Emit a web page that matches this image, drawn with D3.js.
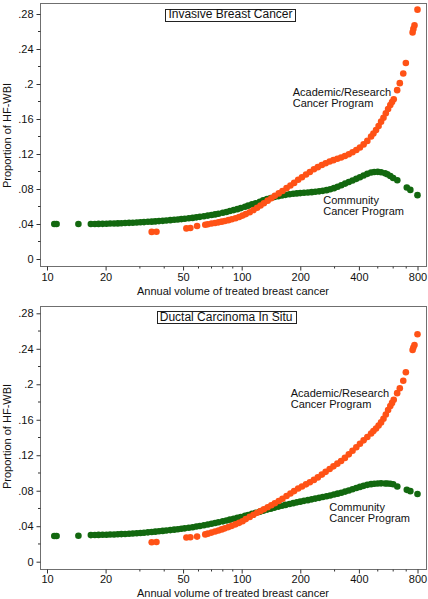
<!DOCTYPE html>
<html>
<head>
<meta charset="utf-8">
<script src="https://cdn.jsdelivr.net/npm/d3@7"></script>
<style>
  html, body { margin: 0; padding: 0; background: #fff; }
  svg { display: block; font-family: "Liberation Sans", Arial, Helvetica, sans-serif; }
</style>
</head>
<body>
<svg id="chart" width="428" height="599"></svg>
<script>
// ---------------- data ----------------
const xTickValues = [10, 20, 50, 100, 200, 400, 800];
const xMinorTicks = [30, 40, 60, 70, 80, 90, 300, 500, 600, 700];
const yTickValues = [0, 0.04, 0.08, 0.12, 0.16, 0.2, 0.24, 0.28];
const yTickLabels = ["0", ".04", ".08", ".12", ".16", ".2", ".24", ".28"];
const yMinorTicks = [0.02, 0.06, 0.10, 0.14, 0.18, 0.22, 0.26];
const panelTitles = ["Invasive Breast Cancer", "Ductal Carcinoma In Situ"];
const seriesNames = [["Community", "Cancer Program"], ["Academic/Research", "Cancer Program"]];
const xTitle = "Annual volume of treated breast cancer";
const yTitle = "Proportion of HF-WBI";

// [annual volume, proportion]
const invasiveCommunity = [
 [10.9,0.0400],[11.2,0.0400],[14.5,0.0400],[16.8,0.0400],[17.6,0.0400],[18.4,0.0401],[19.3,0.0402],[20.2,0.0403],
 [21.1,0.0405],[22.1,0.0406],[23.1,0.0407],[24.1,0.0409],[25.2,0.0411],[26.4,0.0413],[27.6,0.0415],[28.9,0.0417],
 [30.2,0.0420],[31.5,0.0422],[33,0.0425],[34.5,0.0427],[36,0.0430],[37.6,0.0433],[39.3,0.0436],[41,0.0440],
 [43,0.0444],[45,0.0448],[47,0.0452],[49,0.0456],[51,0.0460],[53.5,0.0465],[56,0.0470],[58.5,0.0476],[61,0.0482],
 [64,0.0489],[67,0.0496],[70,0.0503],[73,0.0510],[76,0.0518],[80,0.0528],[83.5,0.0538],[87,0.0548],[91,0.0559],
 [95,0.0570],[99,0.0582],[104,0.0597],[108,0.0610],[113,0.0624],[118,0.0638],[124,0.0655],[129,0.0670],[135,0.0685],
 [141,0.0698],[147,0.0709],[154,0.0718],[161,0.0726],[168,0.0733],[176,0.0740],[184,0.0745],[192,0.0750],[200,0.0753],
 [209,0.0757],[219,0.0760],[229,0.0764],[239,0.0768],[250,0.0773],[261,0.0779],[273,0.0787],[285,0.0797],[298,0.0810],
 [311,0.0825],[325,0.0843],[340,0.0862],[355,0.0880],[371,0.0898],[388,0.0916],[405,0.0935],[423,0.0955],[442,0.0973],
 [462,0.0988],[480,0.0995],[500,0.0996],[520,0.0992],[545,0.0980],[560,0.0968],[580,0.0948],[600,0.0925],[630,0.0900],
 [705,0.0818],[735,0.0790],[800,0.0730]
];
const invasiveAcademic = [
 [34.5,0.0310],[36.5,0.0312],[52,0.0350],[54.5,0.0355],[59,0.0377],[65,0.0392],[67,0.0398],[70,0.0405],[73,0.0412],
 [76,0.0419],[79,0.0427],[82,0.0435],[85.5,0.0444],[89,0.0454],[93,0.0466],[97,0.0480],[101,0.0496],[105,0.0513],
 [110,0.0535],[115,0.0560],[120,0.0585],[125,0.0612],[130,0.0638],[136,0.0667],[142,0.0695],[148,0.0722],[155,0.0750],
 [162,0.0778],[170,0.0810],[178,0.0840],[186,0.0870],[195,0.0905],[204,0.0935],[214,0.0965],[224,0.0995],[235,0.1025],
 [246,0.1050],[258,0.1075],[270,0.1095],[283,0.1115],[296,0.1130],[310,0.1145],[324,0.1160],[339,0.1178],[355,0.1198],
 [371,0.1220],[388,0.1245],[405,0.1275],[423,0.1310],[442,0.1350],[462,0.1400],[475,0.1435],[490,0.1475],[505,0.1520],
 [520,0.1570],[535,0.1615],[550,0.1665],[565,0.1715],[580,0.1760],[592,0.1795],[604,0.1825],[629,0.1930],[649,0.2010],
 [676,0.2120],[697,0.2240],[755,0.2590],[762,0.2630],[772,0.2670],[800,0.2850]
];
const dcisCommunity = [
 [10.9,0.0290],[11.2,0.0290],[14.5,0.0293],[16.8,0.0300],[17.6,0.0301],[18.4,0.0302],[19.3,0.0303],[20.2,0.0304],
 [21.1,0.0306],[22.1,0.0307],[23.1,0.0309],[24.1,0.0311],[25.2,0.0313],[26.4,0.0315],[27.6,0.0318],[28.9,0.0321],
 [30.2,0.0324],[31.5,0.0327],[33,0.0331],[34.5,0.0335],[36,0.0339],[37.6,0.0343],[39.3,0.0347],[41,0.0351],
 [43,0.0356],[45,0.0361],[47,0.0366],[49,0.0371],[51,0.0376],[53.5,0.0382],[56,0.0389],[58.5,0.0396],[61,0.0403],
 [64,0.0411],[67,0.0419],[70,0.0428],[73,0.0436],[76,0.0444],[80,0.0455],[83.5,0.0464],[87,0.0474],[91,0.0484],
 [95,0.0494],[99,0.0504],[104,0.0516],[108,0.0527],[113,0.0539],[118,0.0551],[124,0.0564],[129,0.0575],[135,0.0587],
 [141,0.0598],[147,0.0609],[154,0.0620],[161,0.0630],[168,0.0640],[176,0.0650],[184,0.0660],[192,0.0669],[200,0.0677],
 [209,0.0686],[219,0.0694],[229,0.0703],[239,0.0711],[250,0.0720],[261,0.0729],[273,0.0738],[285,0.0747],[298,0.0757],
 [311,0.0767],[325,0.0778],[340,0.0790],[355,0.0803],[371,0.0816],[388,0.0830],[405,0.0843],[423,0.0855],[442,0.0866],
 [462,0.0874],[480,0.0879],[500,0.0882],[520,0.0883],[545,0.0882],[560,0.0881],[580,0.0878],[600,0.0873],[630,0.0848],
 [705,0.0810],[735,0.0795],[800,0.0763]
];
const dcisAcademic = [
 [34.5,0.0220],[36.5,0.0222],[52,0.0272],[54.5,0.0276],[59,0.0283],[65,0.0308],[67,0.0316],[70,0.0328],[73,0.0340],
 [76,0.0352],[79,0.0364],[82,0.0376],[85.5,0.0390],[89,0.0404],[93,0.0421],[97,0.0438],[101,0.0456],[105,0.0480],
 [110,0.0505],[115,0.0530],[120,0.0552],[125,0.0572],[130,0.0592],[136,0.0614],[142,0.0636],[148,0.0659],[155,0.0684],
 [162,0.0710],[170,0.0740],[178,0.0768],[186,0.0796],[195,0.0825],[204,0.0848],[214,0.0872],[224,0.0896],[235,0.0922],
 [246,0.0950],[258,0.0982],[270,0.1013],[283,0.1045],[296,0.1075],[310,0.1105],[324,0.1135],[339,0.1170],[355,0.1210],
 [371,0.1250],[388,0.1290],[405,0.1330],[423,0.1368],[442,0.1405],[462,0.1445],[475,0.1472],[490,0.1502],[505,0.1535],
 [520,0.1570],[535,0.1612],[550,0.1660],[565,0.1710],[580,0.1755],[592,0.1790],[604,0.1825],[629,0.1900],[649,0.1955],
 [676,0.2040],[697,0.2135],[755,0.2387],[762,0.2415],[772,0.2443],[800,0.2564]
];

// ---------------- drawing ----------------
const GREEN = "#12680f";
const ORANGE = "#ff5216";
const svg = d3.select("#chart");
const x = d3.scaleLog().domain([10, 800]).range([47, 417.5]);

const panels = [
  { title: panelTitles[0], community: invasiveCommunity, academic: invasiveAcademic,
    frameTop: 3, frameBottom: 266, yRange: [259, 14], titleBase: 18.3,
    acadLbl: [292.7, 95.7], commLbl: [323.3, 204.2], yTitleY: 135.5, xTitleY: 294.5, tickLabelPad: 3 },
  { title: panelTitles[1], community: dcisCommunity, academic: dcisAcademic,
    frameTop: 306, frameBottom: 569, yRange: [561.7, 313.3], titleBase: 320.7,
    acadLbl: [290.7, 397.3], commLbl: [329.3, 511], yTitleY: 436.5, xTitleY: 596.5, tickLabelPad: 2 }
];

panels.forEach(p => {
  const g = svg.append("g");
  const y = d3.scaleLinear().domain([0, 0.28]).range(p.yRange);
  const left = 40, right = 426;

  // frame
  g.append("rect")
    .attr("x", left + 0.5).attr("y", p.frameTop + 0.5)
    .attr("width", right - left).attr("height", p.frameBottom - p.frameTop)
    .attr("fill", "none").attr("stroke", "#6f6f6f").attr("stroke-width", 1);

  // y axis
  const yAxis = g.append("g").attr("transform", `translate(${left + 0.5},0)`)
    .call(d3.axisLeft(y).tickValues(yTickValues).tickFormat((d, i) => yTickLabels[i]).tickSize(4).tickPadding(3));
  yAxis.select(".domain").remove();
  yAxis.selectAll("line").attr("stroke", "#333");
  yAxis.selectAll("text").attr("font-size", 11).attr("fill", "#111")
    .attr("font-family", "'Liberation Sans', Arial, sans-serif");
  g.append("g").selectAll("line").data(yMinorTicks).join("line")
    .attr("x1", left + 0.5).attr("x2", left - 2)
    .attr("y1", d => y(d)).attr("y2", d => y(d)).attr("stroke", "#333");

  // x axis
  const xAxis = g.append("g").attr("transform", `translate(0,${p.frameBottom + 0.5})`)
    .call(d3.axisBottom(x).tickValues(xTickValues).tickFormat(d3.format("d")).tickSize(4).tickPadding(p.tickLabelPad));
  xAxis.select(".domain").remove();
  xAxis.selectAll("line").attr("stroke", "#333");
  xAxis.selectAll("text").attr("font-size", 11).attr("fill", "#111")
    .attr("font-family", "'Liberation Sans', Arial, sans-serif");
  g.append("g").selectAll("line").data(xMinorTicks).join("line")
    .attr("x1", d => x(d)).attr("x2", d => x(d))
    .attr("y1", p.frameBottom + 0.5).attr("y2", p.frameBottom + 2.5).attr("stroke", "#333");

  // axis titles
  g.append("text").attr("x", (left + right) / 2).attr("y", p.xTitleY)
    .attr("text-anchor", "middle").attr("font-size", 11).attr("fill", "#111").text(xTitle);
  g.append("text").attr("transform", `translate(11.2,${p.yTitleY}) rotate(-90)`)
    .attr("text-anchor", "middle").attr("font-size", 11).attr("fill", "#111").text(yTitle);

  // points
  g.append("g").selectAll("circle").data(p.community).join("circle")
    .attr("cx", d => x(d[0])).attr("cy", d => y(d[1])).attr("r", 3.3).attr("fill", GREEN);
  g.append("g").selectAll("circle").data(p.academic).join("circle")
    .attr("cx", d => x(d[0])).attr("cy", d => y(d[1])).attr("r", 3.3).attr("fill", ORANGE);

  // series labels
  const lbl = (pos, lines) => {
    const t = g.append("text").attr("x", pos[0]).attr("y", pos[1]).attr("font-size", 11).attr("fill", "#111");
    lines.forEach((s, i) => t.append("tspan").attr("x", pos[0]).attr("dy", i === 0 ? 0 : 11).text(s));
  };
  lbl(p.acadLbl, seriesNames[1]);
  lbl(p.commLbl, seriesNames[0]);

  // panel title with box
  const tt = g.append("text").attr("x", 292.5).attr("y", p.titleBase)
    .attr("text-anchor", "end").attr("font-size", 12).attr("fill", "#111").text(p.title);
  const bb = tt.node().getBBox();
  g.append("rect")
    .attr("x", Math.round(bb.x - 3) + 0.5).attr("y", Math.round(p.titleBase - 9.5) + 0.5)
    .attr("width", Math.round(bb.width + 6)).attr("height", 12)
    .attr("fill", "#fff").attr("stroke", "#222").attr("stroke-width", 1);
  tt.raise();
});
</script>
</body>
</html>
